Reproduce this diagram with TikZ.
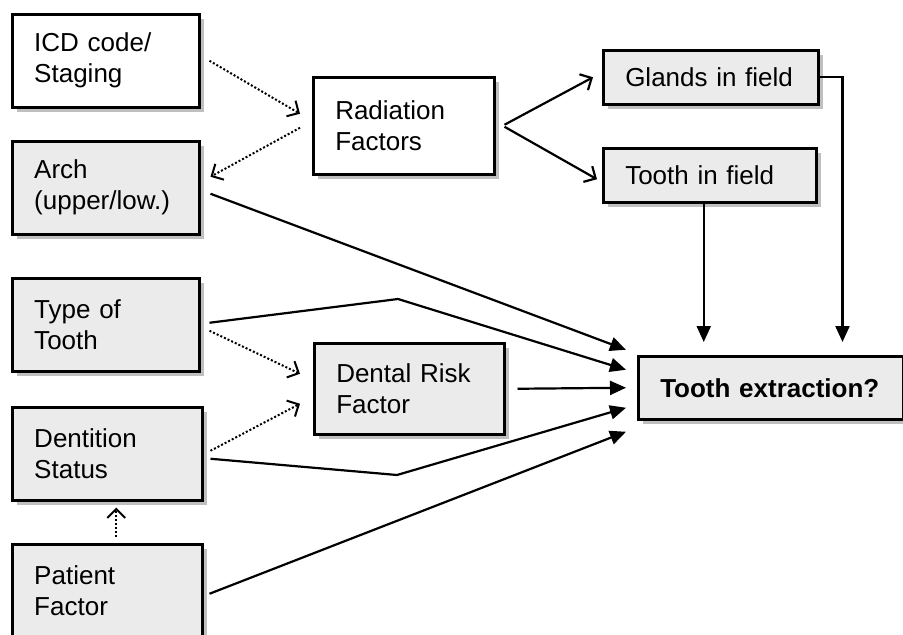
\documentclass[tikz,border=0pt]{standalone}
\usepackage{fontspec}
\setmainfont{Liberation Sans}
\usetikzlibrary{arrows.meta,shadows,calc}

\begin{document}
\begin{tikzpicture}[x=1pt,y=-1pt]
        \tikzstyle{box} = [rectangle, draw, line width=2.5pt, anchor=north west, align=left,
            inner xsep=22pt, inner ysep=0pt, font=\fontsize{26}{31}\selectfont,
            drop shadow={shadow xshift=5pt, shadow yshift=-5pt, fill=black!25, opacity=1}]
        \tikzstyle{grey} = [fill=black!8]
        \tikzstyle{blank} = [fill=white]
        \tikzstyle{line} = [line width=2.2pt, -{Triangle[length=16pt,width=14pt]}]
        \tikzstyle{open} = [line width=2.2pt, -{Straight Barb[length=9pt,width=18pt]}]
        \tikzstyle{dots} = [line width=2pt, dash pattern=on 2pt off 2pt, -{Straight Barb[length=9pt,width=18pt]}]
        \useasboundingbox (0,0) rectangle (903,635);

        \node[box, blank, text width=143pt, minimum height=93pt] (icd) at (11,13) {ICD code/\\Staging};
        \node[box, grey, text width=143pt, minimum height=93pt] (arch) at (11,140) {Arch\\(upper/low.)};
        \node[box, grey, text width=143pt, minimum height=93pt] (type) at (11,277) {Type of\\Tooth};
        \node[box, grey, text width=146pt, minimum height=93pt] (dent) at (11,406) {Dentition\\Status};
        \node[box, grey, text width=146pt, minimum height=93pt] (pat) at (11,543) {Patient\\Factor};
        \node[box, blank, text width=137pt, minimum height=97pt] (rad) at (312,76) {Radiation\\Factors};
        \node[box, grey, text width=146pt, minimum height=91pt] (risk) at (313,342) {Dental Risk\\Factor};
        \node[box, grey, text width=171pt, minimum height=54pt] (glands) at (602,49) {Glands~in~field};
        \node[box, grey, text width=169pt, minimum height=54pt] (tooth) at (602,147) {Tooth~in~field};
        \node[box, grey, text width=221pt, minimum height=63pt,
            font=\fontsize{26}{31}\selectfont\bfseries] (ext) at (637,355) {Tooth~extraction?};
        \coordinate (k1) at (398,299);
        \coordinate (k2) at (397,475);

        % dotted influences
        \draw[dots] ($(icd.east)+(9,0)$) -- ($(rad.west)+(-12,-12)$);
        \draw[dots] ($(rad.west)+(-12,2)$) -- ($(arch.east)+(10,-11)$);
        \draw[dots] ($(type.east)+(9,6)$) -- ($(risk.west)+(-13,-15)$);
        \draw[dots] ($(dent.east)+(7,-3)$) -- ($(risk.west)+(-13,15)$);
        \draw[dots] ($(pat.north)+(9,-6)$) -- ($(dent.south)+(9,6)$);

        \draw[open] ($(rad.east)+(9,-1)$) -- ($(glands.west)+(-9,0)$);
        \draw[open] ($(rad.east)+(9,1)$) -- ($(tooth.west)+(-5,4)$);

        % into the extraction box
        \draw[line] (glands.east) -| ($(ext.north east)+(-62,-13)$);
        \draw[line] ($(tooth.south)+(-6,0)$) -- ($(tooth.south |- ext.north)+(-6,-13)$);
        \foreach \from/\sx/\sy/\ty in {arch/10/6/-38, risk/12/0/0, pat/6/3/44}
            \draw[line] ($(\from.east)+(\sx,\sy)$) -- ($(ext.west)+(-11,\ty)$);
        \draw[line] ($(type.east)+(9,-2)$) -- (k1) -- ($(ext.west)+(-11,-18)$);
        \draw[line] ($(dent.east)+(7,5)$) -- (k2) -- ($(ext.west)+(-11,20)$);
\end{tikzpicture}
\end{document}
